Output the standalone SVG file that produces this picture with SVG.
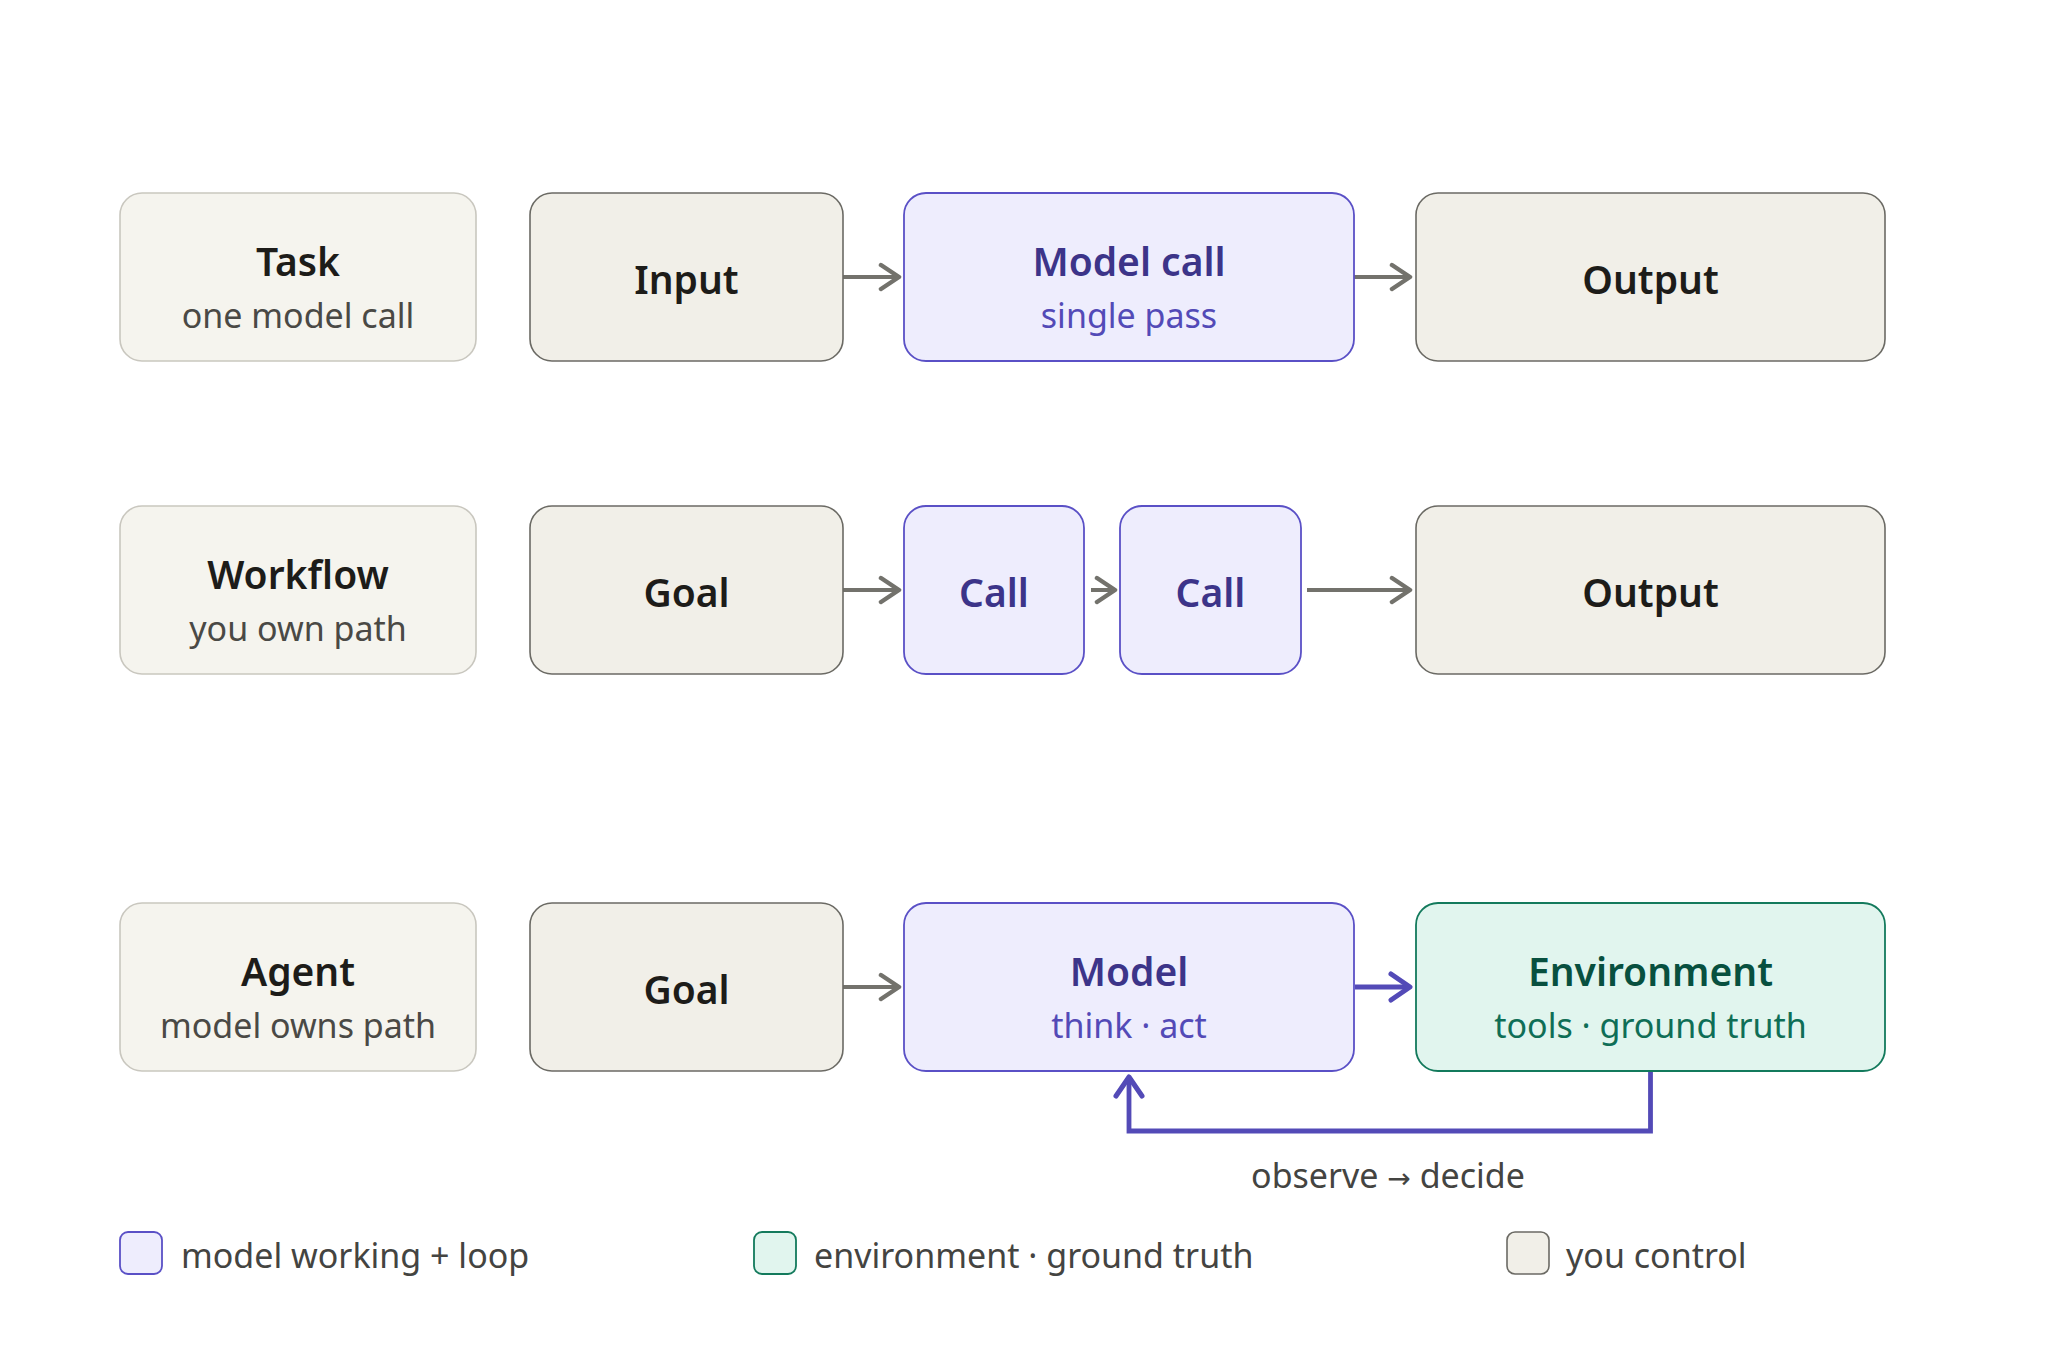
<svg xmlns="http://www.w3.org/2000/svg" width="2048" height="1355" viewBox="0 0 2048 1355">
  <defs>
    <style>
      .lab { fill: #f5f4ee; stroke: #c9c7bf; stroke-width: 1.6; }
      .ctl { fill: #f1efe8; stroke: #6b6a64; stroke-width: 1.6; }
      .mdl { fill: #eeedfd; stroke: #5a50c6; stroke-width: 1.8; }
      .env { fill: #e1f5ee; stroke: #137a5c; stroke-width: 1.8; }
      text { font-family: "Noto Sans", "Open Sans", "Liberation Sans", sans-serif; text-anchor: middle; }
      .t { font-size: 39px; font-weight: 600; fill: #1d1c19; }
      .s { font-size: 34px; fill: #4a4945; }
      .mt { fill: #3c3489; }
      .ms { fill: #534ab7; }
      .et { fill: #08503f; }
      .es { fill: #0f6e56; }
      .leg { font-size: 34px; fill: #444441; text-anchor: start; }
      .g { stroke: #73726c; stroke-width: 4; fill: none; }
      .p { stroke: #534ab7; stroke-width: 4.8; fill: none; }
      .arr { font-family: "DejaVu Sans", sans-serif; font-size: 28px; }
    </style>
    <marker id="ag" viewBox="0 0 24 30" markerWidth="24" markerHeight="30" refX="19" refY="15" orient="auto" markerUnits="userSpaceOnUse">
      <path d="M3,3 L21,15 L3,27" fill="none" stroke="#73726c" stroke-width="4.5" stroke-linecap="round" stroke-linejoin="round"/>
    </marker>
    <marker id="ap" viewBox="0 0 26 32" markerWidth="26" markerHeight="32" refX="20" refY="16" orient="auto" markerUnits="userSpaceOnUse">
      <path d="M3,3 L22,16 L3,29" fill="none" stroke="#534ab7" stroke-width="5" stroke-linecap="round" stroke-linejoin="round"/>
    </marker>
  </defs>
  <rect width="2048" height="1355" fill="#ffffff"/>

  <g id="connectors">
    <line class="g" x1="843" y1="277" x2="897" y2="277" marker-end="url(#ag)"/>
    <line class="g" x1="1354" y1="277" x2="1408" y2="277" marker-end="url(#ag)"/>
    <line class="g" x1="843" y1="590" x2="897" y2="590" marker-end="url(#ag)"/>
    <line class="g" x1="1091" y1="590" x2="1113" y2="590" marker-end="url(#ag)"/>
    <line class="g" x1="1307" y1="590" x2="1408" y2="590" marker-end="url(#ag)"/>
    <line class="g" x1="843" y1="987" x2="897" y2="987" marker-end="url(#ag)"/>
    <line class="p" x1="1355" y1="987" x2="1408" y2="987" marker-end="url(#ap)"/>
    <path class="p" d="M1650.5,1072 V1131 H1129 V1079" marker-end="url(#ap)"/>
    <text class="s" x="1388" y="1188" style="fill:#444441">observe <tspan class="arr">→</tspan> decide</text>
  </g>

  <g id="task">
    <rect class="lab" x="120" y="193" width="356" height="168" rx="22"/>
    <text class="t" x="298" y="276">Task</text>
    <text class="s" x="298" y="328">one model call</text>
  </g>
  <g id="input">
    <rect class="ctl" x="530" y="193" width="313" height="168" rx="22"/>
    <text class="t" x="686.5" y="294">Input</text>
  </g>
  <g id="model-call">
    <rect class="mdl" x="904" y="193" width="450" height="168" rx="22"/>
    <text class="t mt" x="1129" y="276">Model call</text>
    <text class="s ms" x="1129" y="328">single pass</text>
  </g>
  <g id="output-1">
    <rect class="ctl" x="1416" y="193" width="469" height="168" rx="22"/>
    <text class="t" x="1650.5" y="294">Output</text>
  </g>

  <g id="workflow">
    <rect class="lab" x="120" y="506" width="356" height="168" rx="22"/>
    <text class="t" x="298" y="589">Workflow</text>
    <text class="s" x="298" y="641">you own path</text>
  </g>
  <g id="goal-1">
    <rect class="ctl" x="530" y="506" width="313" height="168" rx="22"/>
    <text class="t" x="686.5" y="607">Goal</text>
  </g>
  <g id="call-1">
    <rect class="mdl" x="904" y="506" width="180" height="168" rx="22"/>
    <text class="t mt" x="994" y="607">Call</text>
  </g>
  <g id="call-2">
    <rect class="mdl" x="1120" y="506" width="181" height="168" rx="22"/>
    <text class="t mt" x="1210.5" y="607">Call</text>
  </g>
  <g id="output-2">
    <rect class="ctl" x="1416" y="506" width="469" height="168" rx="22"/>
    <text class="t" x="1650.5" y="607">Output</text>
  </g>

  <g id="agent">
    <rect class="lab" x="120" y="903" width="356" height="168" rx="22"/>
    <text class="t" x="298" y="986">Agent</text>
    <text class="s" x="298" y="1038">model owns path</text>
  </g>
  <g id="goal-2">
    <rect class="ctl" x="530" y="903" width="313" height="168" rx="22"/>
    <text class="t" x="686.5" y="1004">Goal</text>
  </g>
  <g id="model">
    <rect class="mdl" x="904" y="903" width="450" height="168" rx="22"/>
    <text class="t mt" x="1129" y="986">Model</text>
    <text class="s ms" x="1129" y="1038">think · act</text>
  </g>
  <g id="environment">
    <rect class="env" x="1416" y="903" width="469" height="168" rx="22"/>
    <text class="t et" x="1650.5" y="986">Environment</text>
    <text class="s es" x="1650.5" y="1038">tools · ground truth</text>
  </g>

  <g id="legend">
    <rect class="mdl" x="120" y="1232" width="42" height="42" rx="8"/>
    <text class="leg" x="181" y="1268">model working + loop</text>
    <rect class="env" x="754" y="1232" width="42" height="42" rx="8"/>
    <text class="leg" x="814" y="1268">environment · ground truth</text>
    <rect class="ctl" x="1507" y="1232" width="42" height="42" rx="8"/>
    <text class="leg" x="1566" y="1268">you control</text>
  </g>
</svg>
